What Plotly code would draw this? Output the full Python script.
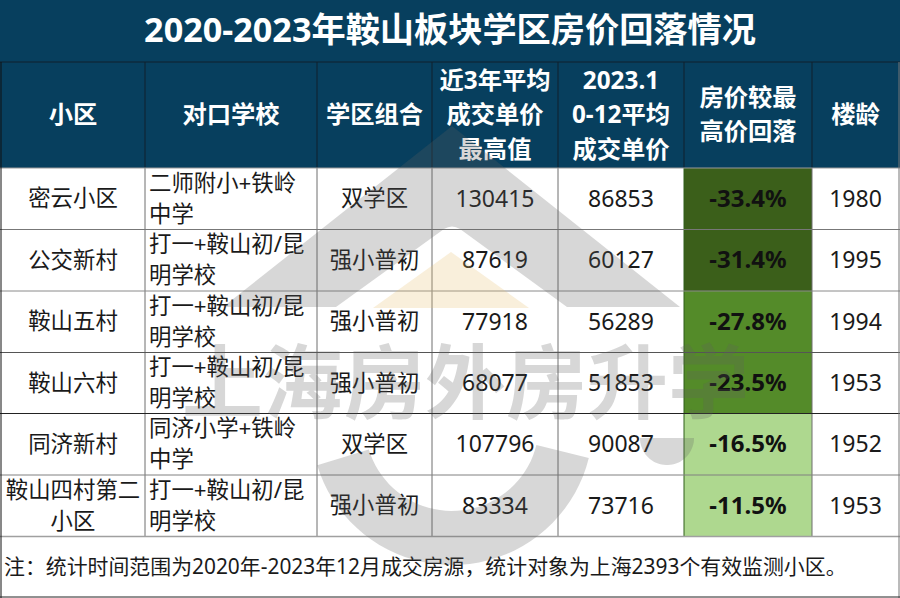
import numpy as np
import plotly.graph_objects as go

# table contents
communities = ["密云小区", "公交新村", "鞍山五村", "鞍山六村", "同济新村", "鞍山四村第二<br>小区"]
schools = ["二师附小+铁岭<br>中学", "打一+鞍山初/昆<br>明学校", "打一+鞍山初/昆<br>明学校",
           "打一+鞍山初/昆<br>明学校", "同济小学+铁岭<br>中学", "打一+鞍山初/昆<br>明学校"]
combos = ["双学区", "强小普初", "强小普初", "强小普初", "双学区", "强小普初"]
peak_price = [130415, 87619, 77918, 68077, 107796, 83334]
recent_price = [86853, 60127, 56289, 51853, 90087, 73716]
drop_pct = ["-33.4%", "-31.4%", "-27.8%", "-23.5%", "-16.5%", "-11.5%"]
build_year = [1980, 1995, 1994, 1953, 1952, 1953]
headers = ["小区", "对口学校", "学区组合", "近3年平均<br>成交单价<br>最高值", "2023.1<br>0-12平均<br>成交单价",
           "房价较最<br>高价回落", "楼龄"]
title = "2020-2023年鞍山板块学区房价回落情况"
note = "注：统计时间范围为2020年-2023年12月成交房源，统计对象为上海2393个有效监测小区。"
watermark = "上海房外房升学"

# page grid, in pixels
col_edges = [1, 145, 317, 432, 558, 684, 812, 899]
row_edges = [168, 229.5, 291, 352.5, 413.5, 475, 536.5]
row_line_colors = ["#9a9a9a", "#777777", "#8a8a8a", "#555555", "#222222", "#808080", "#a0a0a0"]
drop_colors = ["#3b5f1a", "#3b5f1a", "#548b29", "#548b29", "#aed88f", "#aed88f"]

FONT = "Noto Sans, Noto Sans CJK SC, sans-serif"
NAVY = "#073f5e"
INK = "#1a1a1a"
WM = "rgba(96,96,96,0.25)"
W, H = 900, 598
TITLE_BOTTOM, HEADER_BOTTOM = 62, 168

fig = go.Figure()


def rect(x0, x1, y0, y1, color):
    fig.add_shape(type="rect", x0=x0, x1=x1, y0=y0, y1=y1, fillcolor=color, line_width=0, layer="below")


def rule(x0, x1, y0, y1, color, width=1):
    fig.add_shape(type="line", x0=x0, x1=x1, y0=y0, y1=y1, line=dict(color=color, width=width), layer="below")


def put_text(values, centers_y, x, pos, size, color, bold=False, gap=31):
    # multi-line cells are split so the line spacing can follow the picture
    xs, ys, texts = [], [], []
    for val, yc in zip(values, centers_y):
        lines = str(val).split("<br>")
        for i, line in enumerate(lines):
            xs.append(x)
            ys.append(yc + (i - (len(lines) - 1) / 2) * gap)
            texts.append("<b>%s</b>" % line if bold else line)
    fig.add_trace(go.Scatter(x=xs, y=ys, text=texts, mode="text", textposition=pos, cliponaxis=False,
                             textfont=dict(family=FONT, size=size, color=color), hoverinfo="skip"))


# fills
rect(0, W, 0, HEADER_BOTTOM, NAVY)
for i, color in enumerate(drop_colors):
    rect(col_edges[5], col_edges[6], row_edges[i], row_edges[i + 1], color)

# grid
rule(0, W, TITLE_BOTTOM, TITLE_BOTTOM, "#10202c")
for x in col_edges[1:-1]:
    rule(x, x, TITLE_BOTTOM, HEADER_BOTTOM, "#10202c")
    rule(x, x, HEADER_BOTTOM, row_edges[-1], "#2f5f1a" if x == col_edges[5] else "#6f6f6f")
for y, color in zip(row_edges, row_line_colors):
    rule(0, W, y, y, color, 1.5 if y == row_edges[-1] else 1)
rule(1, 1, TITLE_BOTTOM, H, "#111111")
rule(899, 899, TITLE_BOTTOM, H, "#777777")
rule(0, W, 597, 597, "#222222")

# text
row_mid = [(a + b) / 2 + 2 for a, b in zip(row_edges[:-1], row_edges[1:])]
col_mid = [(a + b) / 2 for a, b in zip(col_edges[:-1], col_edges[1:])]
put_text([title], [33], W / 2, "middle center", 34.2, "white", bold=True)
for x, head in zip(col_mid, headers):
    put_text([head], [117], x, "middle center", 24.3, "white", bold=True, gap=34.5)
put_text(communities, row_mid, col_mid[0], "middle center", 22.4, INK)
put_text(schools, row_mid, col_edges[1] + 4, "middle right", 22.4, INK)
put_text(combos, row_mid, col_mid[2], "middle center", 22.4, INK)
put_text(peak_price, row_mid, col_mid[3], "middle center", 23, INK)
put_text(recent_price, row_mid, col_mid[4], "middle center", 23, INK)
put_text(drop_pct, row_mid, col_mid[5], "middle center", 24, "#111111", bold=True)
put_text(build_year, row_mid, col_mid[6], "middle center", 23, INK)
put_text([note], [569], 4, "middle right", 20.9, INK)

# watermark lies over the table
roof = "M 223 307 L 452 126 L 680 307 L 567 307 L 460 229 Q 452 224 444 229 L 336 307 Z"
fig.add_shape(type="path", path=roof, fillcolor=WM, line_width=0, layer="above")
fig.add_shape(type="path", path="M 373 308 L 451 252 L 529 308 Z", fillcolor="rgba(230,190,110,0.25)",
              line_width=0, layer="above")


def ring_path(cx, cy, r_out, r_in, a0, a1):
    out = np.radians(np.linspace(a0, a1, 40))
    pts = [(cx + r_out * np.cos(t), cy + r_out * np.sin(t)) for t in out]
    pts += [(cx + r_in * np.cos(t), cy + r_in * np.sin(t)) for t in out[::-1]]
    return "M " + " L ".join("%.1f %.1f" % p for p in pts) + " Z"


fig.add_shape(type="path", path=ring_path(452, 424, 141, 87, 14, 163), fillcolor=WM, line_width=0, layer="above")
fig.add_shape(type="path", path=ring_path(667, 438, 27, 0, 0, 180), fillcolor=WM, line_width=0, layer="above")
fig.add_annotation(text="<b>%s</b>" % watermark, x=465, y=380, showarrow=False, xanchor="center",
                   yanchor="middle", font=dict(family=FONT, size=81, color=WM))

fig.update_xaxes(range=[0, W], visible=False, fixedrange=True)
fig.update_yaxes(range=[H, 0], visible=False, fixedrange=True)
fig.update_layout(width=W, height=H, margin=dict(l=0, r=0, t=0, b=0), paper_bgcolor="white",
                  plot_bgcolor="white", showlegend=False)
fig.write_html("out.html", config=dict(displayModeBar=False), post_script="document.body.style.margin='0';")
